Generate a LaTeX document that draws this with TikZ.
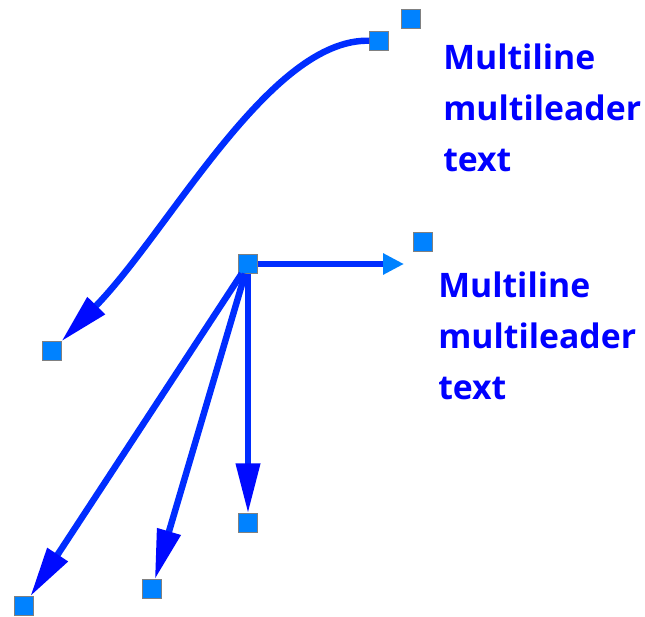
\documentclass[tikz,border=0pt]{standalone}
\usepackage{fontspec}
\setmainfont{Open Sans}
\usetikzlibrary{arrows.meta}

\definecolor{leaderblue}{RGB}{0,45,255}
\definecolor{tipblue}{RGB}{0,10,255}
\definecolor{gripblue}{RGB}{0,130,255}
\definecolor{textblue}{RGB}{0,0,255}

\begin{document}
\begin{tikzpicture}[
    x=0.025cm,y=-0.025cm,
    grip/.style={draw=gray, fill=gripblue, line width=0.9pt, minimum size=0.48cm,
      inner sep=0pt, outer sep=0pt},
    leader/.style={draw=leaderblue, line width=4.6pt,
      -{Triangle[length=1.25cm, width=0.58cm, color=tipblue]}},
    lightleader/.style={leader, -{Triangle[length=0.52cm, width=0.5cm, color=gripblue]}},
    mtext/.style={anchor=north west, align=left, inner sep=0pt, text=textblue,
      font=\fontsize{24}{36}\selectfont\bfseries}
  ]
    \useasboundingbox (0,0) rectangle (645,617);

    % first leader, curved
    \node[grip] (topgrip) at (379,41) {};
    \node[grip] (toplanding) at (411,19) {};
    \node[grip] (curveend) at (52,351) {};
    \node[mtext] (toptext) at (443,44) {Multiline\\multileader\\text};

    % second leader, several arms
    \node[grip] (hub) at (248,264) {};
    \node[grip] (midlanding) at (423,242) {};
    \coordinate (hubtip) at (404,264);
    \node[grip] (armdown) at (248,523) {};
    \node[grip] (armmid) at (152,589) {};
    \node[grip] (armleft) at (24,606) {};
    \node[mtext] (midtext) at (438,272) {Multiline\\multileader\\text};

    \draw[leader] (topgrip) .. controls (270,38) and (170,230) .. (curveend);
    \draw[lightleader] (hub) -- (hubtip);
    \draw[leader] (hub) -- (armdown);
    \draw[leader] (hub) -- (armmid);
    \draw[leader] (hub) -- (armleft);
  \end{tikzpicture}
\end{document}
